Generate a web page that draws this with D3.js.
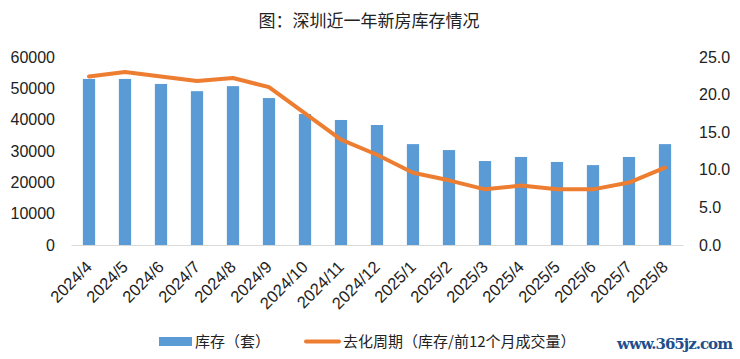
<!DOCTYPE html>
<html>
<head>
<meta charset="utf-8">
<script src="https://cdn.jsdelivr.net/npm/d3@7"></script>
<style>
  body { margin: 0; background: #fff; }
  svg { display: block; font-family: "Noto Sans CJK SC", "Noto Sans", sans-serif; }
</style>
</head>
<body>
<div id="chart"></div>
<script>
// data
const months = ['2024/4', '2024/5', '2024/6', '2024/7', '2024/8', '2024/9', '2024/10', '2024/11', '2024/12',
  '2025/1', '2025/2', '2025/3', '2025/4', '2025/5', '2025/6', '2025/7', '2025/8'];
const inventory = [53000, 53000, 51400, 49100, 50700, 46900, 41800, 39900, 38300,
  32200, 30300, 26800, 28100, 26500, 25500, 28100, 32200];
const cycle = [22.4, 23.0, 22.4, 21.8, 22.2, 21.0, 17.5, 14.0, 12.0,
  9.6, 8.6, 7.4, 7.9, 7.4, 7.4, 8.3, 10.3];
const leftTicks = [0, 10000, 20000, 30000, 40000, 50000, 60000];
const rightTicks = [0, 5, 10, 15, 20, 25];

const title = '图：深圳近一年新房库存情况';
const barName = '库存（套）';
const lineName = '去化周期（库存/前12个月成交量）';

const W = 740, H = 359;
const plot = { left: 71, right: 683, top: 57, bottom: 245 };

const svg = d3.select('#chart').append('svg')
  .attr('width', W)
  .attr('height', H);

svg.append('text')
  .attr('x', 369)
  .attr('y', 27)
  .attr('text-anchor', 'middle')
  .attr('font-size', 17)
  .attr('fill', '#222')
  .text(title);

const x = d3.scaleBand()
  .domain(months)
  .range([plot.left, plot.right])
  .paddingInner(0.66)
  .paddingOuter(0.33);

const yL = d3.scaleLinear().domain([0, 60000]).range([plot.bottom, plot.top]);
const yR = d3.scaleLinear().domain([0, 25]).range([plot.bottom, plot.top]);

// left axis
const axL = svg.append('g')
  .attr('transform', `translate(${plot.left - 16},0)`)
  .call(d3.axisLeft(yL).tickValues(leftTicks).tickSize(0).tickPadding(0).tickFormat(d3.format('d')));
axL.select('.domain').remove();
axL.selectAll('text').attr('font-size', 16).attr('fill', '#222').attr('font-family', 'inherit');

// right axis
const axR = svg.append('g')
  .attr('transform', `translate(${plot.right + 16},0)`)
  .call(d3.axisRight(yR).tickValues(rightTicks).tickSize(0).tickPadding(0).tickFormat(d3.format('.1f')));
axR.select('.domain').remove();
axR.selectAll('text').attr('font-size', 16).attr('fill', '#222').attr('font-family', 'inherit');

// bars
svg.append('g')
  .selectAll('rect')
  .data(inventory)
  .join('rect')
  .attr('x', (d, i) => x(months[i]))
  .attr('y', d => yL(d))
  .attr('width', x.bandwidth())
  .attr('height', d => yL(0) - yL(d))
  .attr('fill', '#5B9BD5');

// bottom axis
const axB = svg.append('g')
  .attr('transform', `translate(0,${plot.bottom})`)
  .call(d3.axisBottom(x).tickSize(0).tickPadding(0));
axB.select('.domain').attr('stroke', '#d9d9d9').attr('stroke-width', 1);
axB.selectAll('text')
  .attr('font-size', 16.5)
  .attr('fill', '#222')
  .attr('font-family', 'inherit')
  .attr('text-anchor', 'end')
  .attr('dy', null)
  .attr('transform', 'translate(4,23) rotate(-45)');

// line
const line = d3.line()
  .x((d, i) => x(months[i]) + x.bandwidth() / 2)
  .y(d => yR(d));

svg.append('path')
  .datum(cycle)
  .attr('d', line)
  .attr('fill', 'none')
  .attr('stroke', '#ED7D31')
  .attr('stroke-width', 4)
  .attr('stroke-linejoin', 'round')
  .attr('stroke-linecap', 'round');

// legend
const lg = svg.append('g');
lg.append('rect').attr('x', 159).attr('y', 337).attr('width', 33).attr('height', 9).attr('fill', '#5B9BD5');
lg.append('text').attr('x', 195).attr('y', 347).attr('font-size', 15).attr('fill', '#222').text(barName);
lg.append('line').attr('x1', 306).attr('x2', 339).attr('y1', 341.5).attr('y2', 341.5)
  .attr('stroke', '#ED7D31').attr('stroke-width', 4).attr('stroke-linecap', 'round');
lg.append('text').attr('x', 343).attr('y', 347).attr('font-size', 15).attr('fill', '#222').text(lineName);

// watermark
svg.append('text')
  .attr('x', 617)
  .attr('y', 349)
  .attr('font-size', 15)
  .attr('font-weight', 'bold')
  .attr('font-family', '"DejaVu Serif", serif')
  .attr('fill', '#1F4E8C')
  .attr('textLength', 116)
  .text('www.365jz.com');
</script>
</body>
</html>
